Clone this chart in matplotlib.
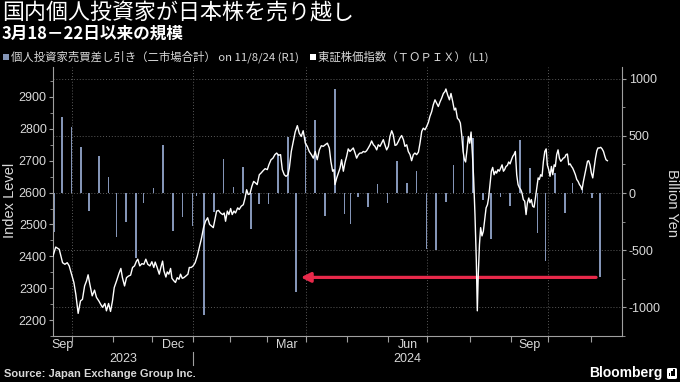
import pandas as pd
import matplotlib
matplotlib.use("Agg")
import matplotlib.pyplot as plt
import matplotlib.transforms as mtransforms
from matplotlib.patches import FancyBboxPatch, Rectangle

plt.rcParams["font.family"] = ["Liberation Sans", "Noto Sans CJK JP", "DejaVu Sans"]
plt.rcParams["axes.unicode_minus"] = False
JP = ["Noto Sans CJK JP", "DejaVu Sans"]

BAR_COLOR = "#8495b7"
ARROW_COLOR = "#e8294a"
GRID_COLOR = "#5a5a5a"
AXIS_COLOR = "#a0a0a0"
TEXT_COLOR = "#d9d9d9"

TITLE = "国内個人投資家が日本株を売り越し"
SUBTITLE = "3月18－22日以来の規模"
LEGEND_BARS = "個人投資家売買差し引き（二市場合計） on 11/8/24 (R1)"
LEGEND_LINE = "東証株価指数（ＴＯＰＩＸ） (L1)"
SOURCE = "Source: Japan Exchange Group Inc."

# Tokyo exchange holidays in the window (trading-day axis, like the terminal)
HOLIDAYS = ["2023-09-18", "2023-10-09", "2023-11-03", "2023-11-23",
            "2024-01-01", "2024-01-02", "2024-01-03", "2024-01-08",
            "2024-02-12", "2024-02-23", "2024-03-20", "2024-04-29",
            "2024-05-03", "2024-05-06", "2024-07-15", "2024-08-12",
            "2024-09-16", "2024-09-23", "2024-10-14", "2024-11-04"]

# weekly net buying of individuals, billion yen (week ending Friday)
week_end = pd.date_range("2023-09-15", "2024-11-08", freq="W-FRI")
net_buy = [-345, 664, 576, 406, -155, 327, 140, -389, -257, -573,
           -91, 47, 421, -330, -213, -287, -29, -1070, -164, 298,
           56, 231, -316, -96, -96, 340, 494, -866, 494, 640,
           -205, 911, -184, -272, -38, -126, 79, -91, 284, 85,
           190, -491, -497, -82, 249, 503, 482, -58, -404, -38,
           -111, 465, 219, -351, -594, 175, -175, 85, 35, -47,
           -740]

# TOPIX: trading days since 2023-09-15, index level
topix_day = [
    0, 1.4, 3.2, 4.9, 6.1, 7.3, 8.3, 9.5, 10.7, 11.7,
    12.9, 14.1, 15.1, 16.2, 17.2, 18.0, 18.9, 20.1, 21.3, 22.3,
    23.5, 24.4, 25.4, 26.6, 27.4, 28.5, 29.5, 30.5, 31.4, 32.6,
    33.8, 34.8, 35.6, 36.7, 37.7, 38.7, 39.8, 40.8, 41.8, 42.8,
    43.5, 44.5, 45.6, 46.6, 47.6, 48.6, 49.7, 50.7, 51.7, 52.4,
    53.4, 54.5, 55.3, 56.2, 56.9, 57.9, 58.6, 59.4, 60.3, 61.0,
    62.0, 62.8, 63.7, 64.6, 65.4, 66.3, 67.1, 68.1, 69.2, 69.9,
    70.9, 71.9, 72.9, 74.0, 75.0, 76.2, 77.2, 78.2, 79.3, 80.3,
    81.3, 82.2, 83.2, 83.9, 84.9, 85.9, 87.0, 87.8, 88.5, 89.4,
    90.2, 91.1, 91.9, 92.8, 93.6, 94.7, 95.5, 96.5, 97.6, 98.4,
    99.3, 100.1, 101.0, 102.0, 102.9, 103.9, 104.7, 105.8, 106.8, 107.8,
    108.8, 109.9, 110.7, 111.8, 112.8, 113.8, 114.7, 115.7, 116.7, 117.6,
    118.6, 119.5, 120.5, 121.2, 122.2, 123.2, 124.2, 125.3, 126.3, 127.3,
    128.3, 129.4, 130.4, 131.4, 132.5, 133.5, 134.5, 135.5, 136.6, 137.6,
    138.6, 139.6, 140.7, 141.7, 142.5, 143.4, 144.1,
    144.6, 145.5, 146.3, 147.2, 148.0, 148.9, 149.7, 150.6, 151.4, 152.3,
    153.1, 154.0, 154.9, 155.7, 156.6, 157.4, 158.3, 159.1, 160.0, 160.8,
    161.7, 162.6, 163.4, 164.3, 165.1, 166.0, 166.8, 167.7, 168.5, 169.4,
    170.2, 171.1, 172.0, 172.8, 173.7, 174.5, 175.4, 176.2, 177.1, 177.9,
    178.8, 179.7, 180.5, 181.4, 182.2, 183.1, 183.9, 184.8, 185.6, 186.5,
    187.4, 188.2, 189.1, 189.9, 190.8, 191.6, 192.5, 193.3, 194.2, 195.0,
    195.9, 196.8, 197.6, 198.5, 199.3, 200.2, 201.0,
    201.5, 202.4, 203.3, 204.1, 205.0, 205.8, 206.5, 207.4, 208.2, 208.9,
    209.6, 210.3, 211.0, 211.6, 212.3, 213.0, 213.7, 214.4, 215.1, 215.7,
    216.4, 217.1, 217.6, 218.1, 218.7, 219.3, 220.0, 220.7, 221.4, 222.1,
    222.8, 223.4, 224.1, 224.8, 225.5, 226.2, 226.9, 227.5, 228.2, 228.9,
    229.6, 230.3, 231.0, 231.6, 232.3, 233.0, 233.7, 234.4, 235.1, 235.8,
    236.4, 237.1, 237.8, 238.5, 239.2, 239.9, 240.5, 241.2, 241.9, 242.6,
    243.3, 244.0, 244.6, 245.3, 246.0, 246.7, 247.4, 248.1, 248.8, 249.4,
    250.1, 250.8, 251.5, 252.2, 252.9, 253.5, 254.2, 254.9, 255.6, 256.3,
    257.0, 257.6, 258.3, 259.0, 259.7, 260.4, 261.1, 261.7, 262.4, 263.1,
    263.8, 264.5, 265.2, 265.9, 266.5, 267.2, 267.9, 268.6, 269.3, 270.0,
    270.6, 271.3, 272.0, 272.7, 273.4, 274.1, 274.7, 275.4, 276.1, 276.8,
    277.5, 278.2, 278.9, 279.5, 280.2, 280.9, 281.6, 282.3, 283.0, 283.6,
    284.3,
]
topix = [
    2401, 2429, 2422, 2380, 2375, 2380, 2370, 2344, 2318, 2281,
    2221, 2260, 2265, 2307, 2323, 2342, 2312, 2276, 2294, 2271,
    2260, 2250, 2240, 2252, 2229, 2252, 2227, 2260, 2302, 2323,
    2346, 2362, 2333, 2307, 2333, 2338, 2341, 2365, 2370, 2385,
    2391, 2370, 2377, 2375, 2391, 2375, 2370, 2383, 2365, 2382,
    2365, 2344, 2365, 2385, 2354, 2335, 2351, 2344, 2362, 2331,
    2323, 2318, 2333, 2328, 2344, 2331, 2333, 2338, 2344, 2365,
    2365, 2370, 2380, 2401, 2427, 2458, 2490, 2510, 2521, 2500,
    2495, 2490, 2521, 2542, 2544, 2536, 2531, 2536, 2510, 2542,
    2531, 2550, 2531, 2542, 2536, 2552, 2547, 2557, 2562, 2581,
    2609, 2594, 2596, 2620, 2635, 2630, 2625, 2656, 2662, 2669,
    2675, 2672, 2687, 2703, 2708, 2719, 2724, 2717, 2719, 2672,
    2656, 2651, 2656, 2677, 2729, 2760, 2790, 2810, 2786, 2776,
    2794, 2755, 2745, 2729, 2719, 2708, 2729, 2703, 2734, 2747,
    2745, 2750, 2755, 2740, 2698, 2667, 2672,
    2625, 2646, 2661, 2677, 2703, 2667, 2693, 2714, 2737, 2729,
    2734, 2740, 2724, 2708, 2719, 2724, 2724, 2729, 2727, 2731,
    2740, 2750, 2762, 2750, 2745, 2734, 2750, 2745, 2755, 2766,
    2750, 2734, 2745, 2776, 2794, 2781, 2748, 2750, 2760, 2771,
    2779, 2766, 2745, 2750, 2729, 2719, 2700, 2719, 2724, 2719,
    2727, 2755, 2792, 2802, 2797, 2807, 2820, 2839, 2854, 2875,
    2891, 2880, 2870, 2885, 2896, 2911, 2917,
    2925, 2906, 2891, 2911, 2885, 2859, 2865, 2833, 2828, 2818,
    2781, 2729, 2703, 2696, 2734, 2776, 2755, 2790, 2719, 2646,
    2531, 2385, 2229, 2344, 2437, 2490, 2464, 2479, 2516, 2552,
    2562, 2583, 2625, 2667, 2679, 2656, 2667, 2661, 2672, 2667,
    2677, 2687, 2667, 2672, 2682, 2685, 2696, 2690, 2703, 2714,
    2719, 2729, 2656, 2625, 2615, 2609, 2599, 2578, 2573, 2531,
    2568, 2583, 2568, 2578, 2557, 2554, 2583, 2615, 2646, 2641,
    2656, 2651, 2698, 2729, 2737, 2687, 2672, 2651, 2682, 2656,
    2687, 2682, 2719, 2734, 2708, 2698, 2703, 2708, 2710, 2719,
    2721, 2687, 2690, 2682, 2677, 2667, 2656, 2641, 2635, 2625,
    2620, 2609, 2635, 2656, 2677, 2698, 2700, 2687, 2661, 2646,
    2677, 2708, 2731, 2740, 2740, 2742, 2737, 2729, 2714, 2703,
    2700,
]

MONTH_LABELS = ["Sep", "Dec", "Mar", "Jun", "Sep"]
LABEL_MONTHS = ["2023-09", "2023-12", "2024-03", "2024-06", "2024-09"]
YEARS = ["2023", "2024"]
QUARTERS = ["2023-10-01", "2024-01-01", "2024-04-01", "2024-07-01", "2024-10-01"]

trade_days = pd.bdate_range("2023-09-15", "2024-12-31", freq="C", holidays=HOLIDAYS)


def day_no(d):
    return int(trade_days.searchsorted(pd.Timestamp(d)))


bar_x = [trade_days.searchsorted(d, side="right") - 1 + 0.5 for d in week_end]
X_END = 291.8

fig = plt.figure(figsize=(6.8, 3.82), dpi=100, facecolor="black")
ax = fig.add_axes([53 / 680, 1 - 336 / 382, 569 / 680, 269 / 382])
ax2 = ax.twinx()
ax.set_zorder(ax2.get_zorder() + 1)
ax.patch.set_visible(False)

# bars on right axis
ax2.bar(bar_x, net_buy, width=0.8, color=BAR_COLOR, linewidth=0, zorder=2)
ax2.set_ylim(-1254, 1105)
ax2.set_yticks([-1000, -500, 0, 500, 1000])
ax2.set_yticks([-1250, -750, -250, 250, 750], minor=True)
ax2.set_axisbelow(True)
ax2.yaxis.grid(True, color=GRID_COLOR, linestyle=(0, (1, 2)), linewidth=0.7)
for q in QUARTERS:
    ax2.axvline(day_no(q), color=GRID_COLOR, linestyle=(0, (1, 2)), linewidth=0.7, zorder=0.5)

# TOPIX line on left axis
ax.plot(topix_day, topix, color="white", linewidth=1.0, zorder=3)
ax.set_ylim(2156, 2994)
ax.set_yticks(range(2200, 3000, 100))
ax.set_yticks(range(2150, 3000, 50), minor=True)
ax.set_xlim(0, X_END)

# arrow from latest week back to the March week
i_mar = list(week_end).index(pd.Timestamp("2024-03-22"))
ax2.annotate("", xy=(bar_x[i_mar] + 2.6, net_buy[-1]), xytext=(bar_x[-1] - 2.0, net_buy[-1]),
             arrowprops=dict(arrowstyle="-|>", color=ARROW_COLOR, lw=2.3,
                             mutation_scale=14, shrinkA=0, shrinkB=0), zorder=4)

# x axis: month boundary ticks, labels mid-month
month_ticks = [day_no(m) for m in pd.date_range("2023-10-01", "2024-11-01", freq="MS")]
ax.set_xticks(month_ticks)
ax.set_xticklabels([""] * len(month_ticks))
label_x = []
for m in LABEL_MONTHS:
    start = pd.Timestamp(m + "-01")
    end = start + pd.offsets.MonthBegin(1)
    label_x.append((day_no(start) + day_no(end)) / 2)
ax.set_xticks(label_x, minor=True)
ax.set_xticklabels(MONTH_LABELS, minor=True)

for a in (ax, ax2):
    for s in a.spines.values():
        s.set_color(AXIS_COLOR)
        s.set_linewidth(0.8)
    a.spines["top"].set_visible(False)
ax.spines["right"].set_visible(False)
ax2.spines["left"].set_visible(False)
ax2.spines["bottom"].set_visible(False)

ax.tick_params(axis="x", which="major", length=4, width=0.8, color=AXIS_COLOR)
ax.tick_params(axis="x", which="minor", length=0, pad=2, labelsize=9, labelcolor=TEXT_COLOR)
ax.tick_params(axis="y", which="major", length=3, width=0.8, color=AXIS_COLOR,
               pad=1.5, labelsize=9, labelcolor=TEXT_COLOR)
ax.tick_params(axis="y", which="minor", length=2, width=0.6, color=AXIS_COLOR)
ax2.tick_params(axis="y", which="major", length=3, width=0.8, color=AXIS_COLOR,
                pad=2, labelsize=9, labelcolor=TEXT_COLOR)
ax2.tick_params(axis="y", which="minor", length=2, width=0.6, color=AXIS_COLOR)

trans = mtransforms.blended_transform_factory(ax.transData, ax.transAxes)
year_edges = [0, day_no("2024-01-01"), X_END]
for k, yr in enumerate(YEARS):
    ax.text((year_edges[k] + year_edges[k + 1]) / 2, -0.085, yr, transform=trans,
            ha="center", va="center", fontsize=9, color=TEXT_COLOR)
ax.plot([year_edges[1]] * 2, [-0.06, -0.108], transform=trans, clip_on=False,
        color=AXIS_COLOR, linewidth=0.8)

fig.text(10 / 680, 1 - 200 / 382, "Index Level", rotation=90, ha="center", va="center",
         fontsize=10.5, color=TEXT_COLOR)
fig.text(672 / 680, 1 - 203 / 382, "Billion Yen", rotation=270, ha="center", va="center",
         fontsize=10.5, color=TEXT_COLOR)

# titles and legend
fig.text(2 / 680, 1 - 14 / 382, TITLE, family=JP, fontsize=15.8, color="white", va="center")
fig.text(2 / 680, 1 - 34 / 382, SUBTITLE, family=JP, fontsize=12, fontweight="bold",
         color="white", va="center")
for sx, col in [(3, BAR_COLOR), (310, "white")]:
    fig.patches.append(Rectangle((sx / 680, 1 - 60 / 382), 6 / 680, 6 / 382,
                                 transform=fig.transFigure, facecolor=col, edgecolor="none"))
fig.text(11 / 680, 1 - 57 / 382, LEGEND_BARS, family=JP, fontsize=8.2, color=TEXT_COLOR, va="center")
fig.text(318 / 680, 1 - 57 / 382, LEGEND_LINE, family=JP, fontsize=8.2, color=TEXT_COLOR, va="center")

fig.text(4 / 680, 1 - 374 / 382, SOURCE, fontsize=8, fontweight="bold", color=TEXT_COLOR, va="center")
fig.text(663 / 680, 1 - 373 / 382, "Bloomberg", fontsize=10, fontweight="bold", color="white",
         ha="right", va="center")
fig.patches.append(FancyBboxPatch((667 / 680, 1 - 379 / 382), 10 / 680, 11 / 382,
                                  boxstyle="round,pad=0,rounding_size=0.003",
                                  transform=fig.transFigure, facecolor="white", edgecolor="none"))
for k, h in enumerate([3, 5, 7]):
    fig.patches.append(Rectangle(((669 + 2.2 * k) / 680, 1 - 376 / 382), 1.3 / 680, h / 382,
                                 transform=fig.transFigure, facecolor="black", edgecolor="none"))

fig.savefig("out.png", dpi=100, facecolor="black")
